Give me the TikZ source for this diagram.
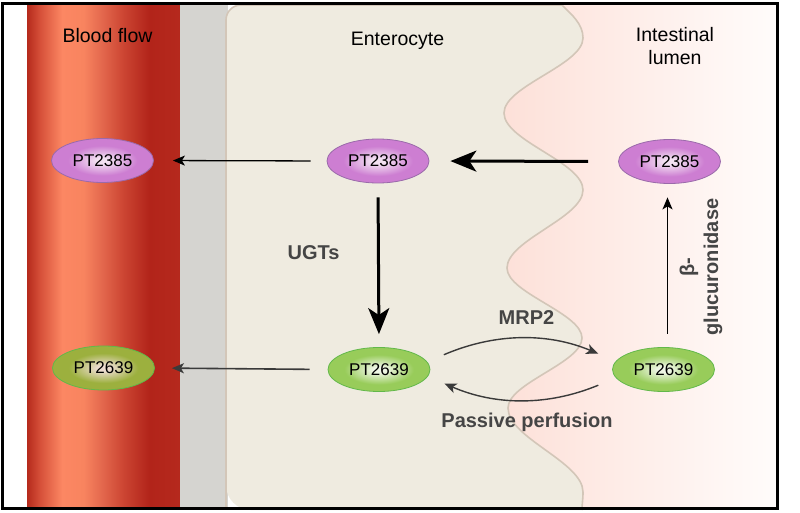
\documentclass[tikz,border=0pt]{standalone}
\usepackage{fontspec}
\setmainfont{Liberation Sans}
\usetikzlibrary{shapes.geometric,arrows.meta}
\definecolor{v0}{HTML}{B52A1C}
\definecolor{v1}{HTML}{D65039}
\definecolor{v2}{HTML}{FC8763}
\definecolor{v3}{HTML}{F8845F}
\definecolor{v4}{HTML}{E56A4F}
\definecolor{v5}{HTML}{CC4532}
\definecolor{v6}{HTML}{B2241A}
\definecolor{v7}{HTML}{B5291D}
\definecolor{bandgray}{HTML}{D5D4D0}
\definecolor{entfill}{HTML}{EFEBE0}
\definecolor{entline}{HTML}{D3C6B8}
\definecolor{lumL}{HTML}{FDE0D8}
\definecolor{lumR}{HTML}{FFFCFB}
\definecolor{pc}{HTML}{F3E2F2}
\definecolor{po}{HTML}{CD7ED2}
\definecolor{purpB}{HTML}{9A6AAA}
\definecolor{gc}{HTML}{EFF6E6}
\definecolor{go}{HTML}{98CC5A}
\definecolor{gbc}{HTML}{EDDCD0}
\definecolor{gbo}{HTML}{9CB03E}
\definecolor{greenB}{HTML}{62B84A}
\definecolor{lblgray}{HTML}{454545}
\definecolor{arrgray}{HTML}{3A3A3A}
\pgfdeclarehorizontalshading{vesselsh}{100bp}{color(0bp)=(v0); color(25bp)=(v0); color(29.25bp)=(v1); color(36.5bp)=(v2); color(43.5bp)=(v3); color(49bp)=(v4); color(56.5bp)=(v5); color(65bp)=(v6); color(75bp)=(v7); color(100bp)=(v7)}
\pgfdeclareradialshading{purpsh}{\pgfpoint{0bp}{0bp}}{color(0bp)=(pc); color(3bp)=(pc); color(17bp)=(po); color(25bp)=(po); color(50bp)=(po)}
\pgfdeclareradialshading{greensh}{\pgfpoint{0bp}{0bp}}{color(0bp)=(gc); color(3bp)=(gc); color(17bp)=(go); color(25bp)=(go); color(50bp)=(go)}
\pgfdeclareradialshading{greenbsh}{\pgfpoint{0bp}{0bp}}{color(0bp)=(gbc); color(3bp)=(gbc); color(17bp)=(gbo); color(25bp)=(gbo); color(50bp)=(gbo)}
\tikzset{
  mol/.style={ellipse, minimum width=102pt, minimum height=44pt, inner sep=0pt,
    font=\fontsize{17}{20}\selectfont, line width=0.8pt},
  purpmol/.style={mol, shading=purpsh, draw=purpB},
  greenmol/.style={mol, shading=greensh, draw=greenB},
  bloodgreen/.style={mol, shading=greenbsh, draw=greenB},
  thinarr/.style={-{Stealth[length=12pt,width=10pt,inset=3pt]}, line width=1.3pt},
  thickarr/.style={-{Stealth[length=26pt,width=21pt,inset=7pt]}, line width=3pt},
  curvarr/.style={-{Stealth[length=12pt,width=10pt,inset=3pt]}, line width=1.4pt, draw=arrgray},
  lbl/.style={font=\fontsize{19.5}{23}\selectfont, inner sep=0pt},
  blbl/.style={font=\bfseries\fontsize{20}{24}\selectfont, text=lblgray, inner sep=0pt},
}
\begin{document}
\begin{tikzpicture}[x=1pt,y=1pt]
\useasboundingbox (0,0) rectangle (800,512);
\fill[white] (0,0) rectangle (800,512);
% blood vessel
\shade[shading=vesselsh] (27,3.5) rectangle (180,508.5);
% gray band
\fill[bandgray] (180,3.5) rectangle (228,508.5);
% lumen
\shade[left color=lumL, right color=lumR] (500,3.5) rectangle (777.5,508.5);
% enterocyte
\path[fill=entfill] (226,29) -- (226,492) arc[start angle=180,end angle=90,radius=15] -- (562,507)
  .. controls (572,497) and (583,488) .. (583,474)
  .. controls (583,447) and (504,426) .. (504,399)
  .. controls (504,371) and (583,350) .. (583,322)
  .. controls (583,294) and (507,272) .. (507,244)
  .. controls (507,219) and (582,199) .. (582,174)
  .. controls (582,149) and (508,129) .. (508,104)
  .. controls (508,74) and (583,50) .. (583,20)
  .. controls (583,12) and (582,8) .. (582,2)
  -- (251,2) arc[start angle=270,end angle=180,radius=25] -- cycle;
\draw[entline, line width=1.6pt] (226,4) -- (226,492) arc[start angle=180,end angle=90,radius=15] -- (562,507)
  .. controls (572,497) and (583,488) .. (583,474)
  .. controls (583,447) and (504,426) .. (504,399)
  .. controls (504,371) and (583,350) .. (583,322)
  .. controls (583,294) and (507,272) .. (507,244)
  .. controls (507,219) and (582,199) .. (582,174)
  .. controls (582,149) and (508,129) .. (508,104)
  .. controls (508,74) and (583,50) .. (583,20)
  .. controls (583,12) and (582,8) .. (582,2);
% region labels
\node[lbl, anchor=base] (tblood) at (107.5,469) {Blood flow};
\node[lbl, anchor=base] (tent) at (397.5,466) {Enterocyte};
\node[lbl, align=center] (tlum) at (675,465.6) {Intestinal\\lumen};
% molecules
\node[purpmol] (b1) at (102.5,351.5) {PT2385};
\node[purpmol] (e1) at (378,351) {PT2385};
\node[purpmol] (l1) at (669.5,350.5) {PT2385};
\node[bloodgreen] (b2) at (103.5,144) {PT2639};
\node[greenmol] (e2) at (379,142.5) {PT2639};
\node[greenmol] (l2) at (663.5,142.5) {PT2639};
% arrows
\draw[thinarr, shorten <=16pt, shorten >=19pt] (e1.west) -- (b1.east);
\draw[thickarr, shorten <=30pt, shorten >=21pt] (l1.west) -- (e1.east);
\draw[thickarr, shorten <=14pt, shorten >=13pt] (e1.south) -- (e2.north);
\draw[thinarr, draw=arrgray, line width=1.6pt, shorten <=18pt, shorten >=17pt] (e2.west) -- (b2.east);
\draw[thinarr, shorten <=13.5pt, shorten >=13.5pt] ([xshift=4pt]l2.north) -- ([xshift=-2pt]l1.south);
\draw[curvarr, shorten <=18pt, shorten >=19pt] (e2.9) to[bend left=23] (l2.170);
\draw[curvarr, shorten <=19pt, shorten >=18pt] (l2.190) to[bend left=23] (e2.352);
% process labels
\node[blbl, anchor=base] (tugt) at (313.5,252) {UGTs};
\node[blbl, anchor=base] (tmrp) at (526.5,188) {MRP2};
\node[blbl, anchor=base] (tpass) at (527,84.5) {Passive perfusion};
\node[blbl, align=center, rotate=90] (tbeta) at (701,245) {β-\\glucuronidase};
% frame
\draw[line width=2.5pt] (2.5,3.5) rectangle (777.5,508.5);
\end{tikzpicture}
\end{document}
